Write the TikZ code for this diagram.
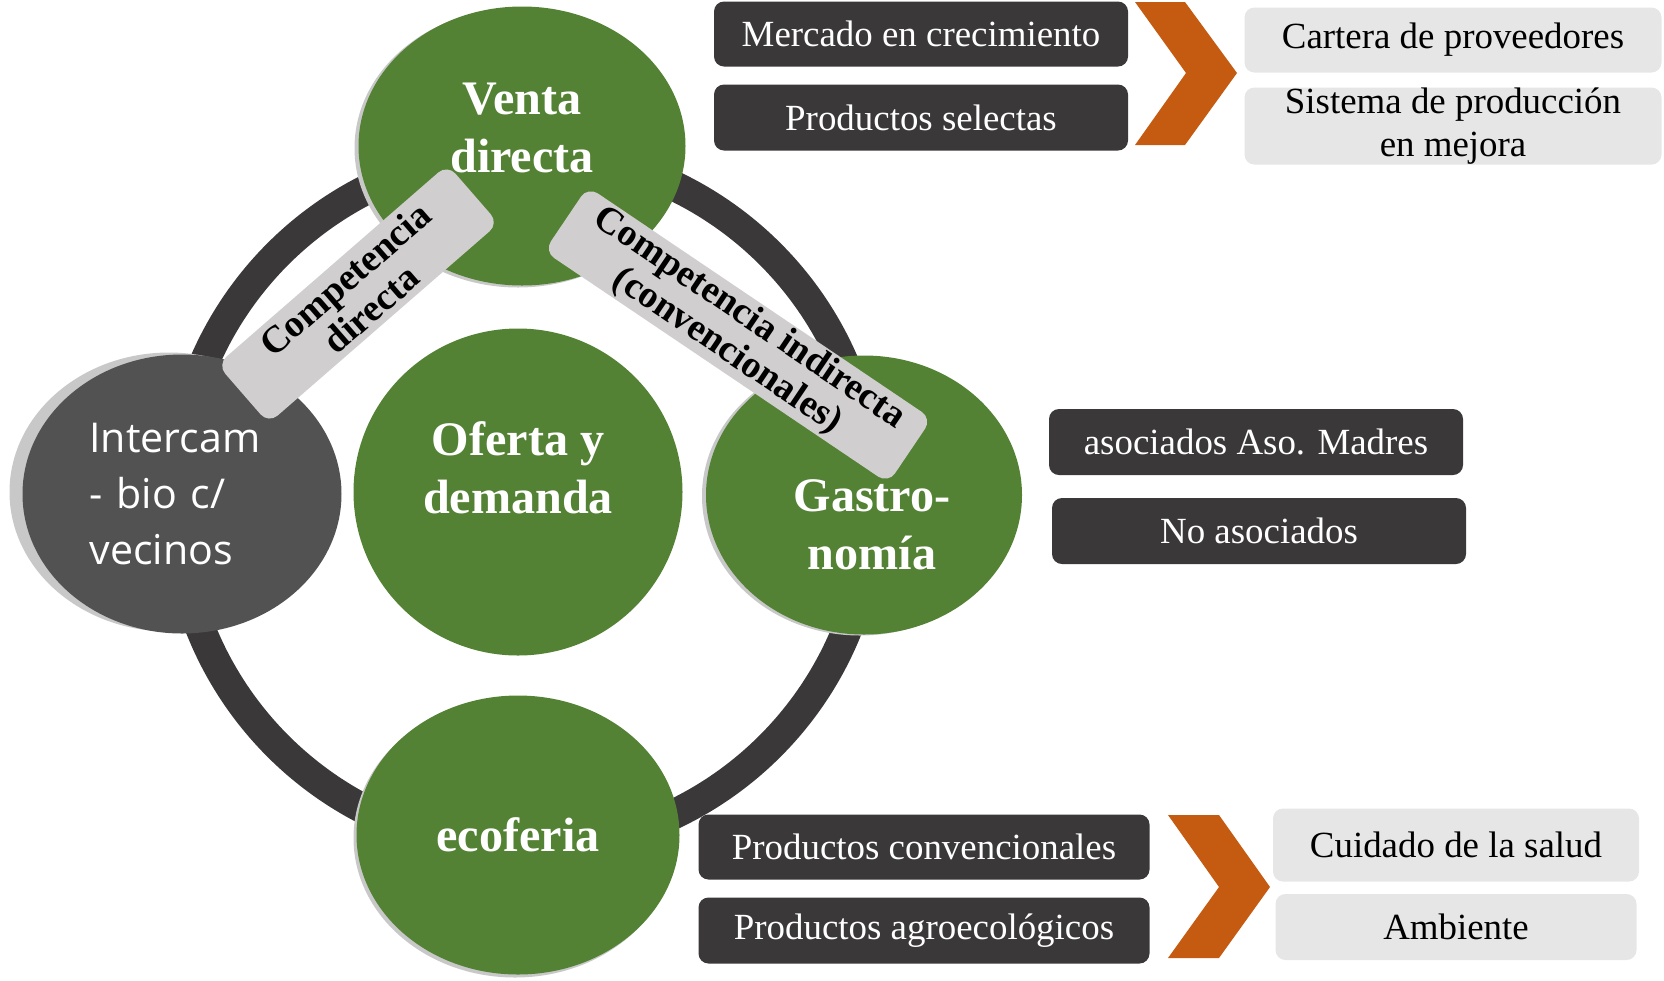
\documentclass[tikz,border=0pt]{standalone}
\usepackage{fontspec}
\setmainfont{Liberation Serif}
\newfontfamily\opensans{Open Sans}
\usetikzlibrary{shapes.geometric,positioning}

\definecolor{leafgreen}{HTML}{548235}
\definecolor{charcoal}{HTML}{3A3838}
\definecolor{slate}{HTML}{525252}
\definecolor{ghostgray}{HTML}{C8C8C8}
\definecolor{badgegray}{HTML}{D0CECE}
\definecolor{palegray}{HTML}{E7E6E6}
\definecolor{rust}{HTML}{C55A11}

\begin{document}
\begin{tikzpicture}[x=0.1mm,y=-0.1mm,
    hub/.style={ellipse,
        fill=leafgreen,
        inner sep=0pt,
        outer sep=0pt},
    hubtext/.style={text=white,
        align=center,
        inner sep=0pt,
        font=\fontsize{13.7}{16.5}\selectfont\bfseries},
    ghost/.style={ellipse, fill=ghostgray, inner sep=0pt, outer sep=0pt},
    ring/.style={draw=charcoal, line width=3mm},
    darkbox/.style={rectangle,
        fill=charcoal,
        text=white,
        rounded corners=1mm,
        inner sep=0pt,
        outer sep=0pt,
        minimum height=6.6mm,
        align=center,
        font=\fontsize{10.5}{12.4}\selectfont},
    lightbox/.style={darkbox, fill=palegray, text=black},
    badge/.style={rectangle,
        fill=badgegray,
        rounded corners=1.2mm,
        inner sep=0pt,
        minimum height=7.8mm,
        align=center,
        font=\fontsize{10.8}{11.2}\selectfont\bfseries},
    chevron/.style={fill=rust},
    ]
    \useasboundingbox (0,0) rectangle (1664,980);

    % ring behind the circles
    \coordinate (ringc) at (524,500);
    \draw[ring] (ringc) circle[radius=34.8mm];

    % soft shadows
    \node[ghost, minimum width=32.7mm, minimum height=27.9mm] (venta-sh) at (518,148) {};
    \node[ghost, minimum width=31.9mm, minimum height=27.9mm] (intercambio-sh) at (169,492) {};
    \node[ghost, minimum width=31.6mm, minimum height=27.9mm] (gastro-sh) at (860,496) {};
    \node[ghost, minimum width=32.3mm, minimum height=27.9mm] (ecoferia-sh) at (515,838) {};

    \node[hub, minimum width=32.7mm, minimum height=27.9mm,
        label={[hubtext, yshift=1.8mm]center:Venta\\directa}] (venta) at (522,146) {};
    \node[hub, minimum width=32.9mm, minimum height=32.7mm,
        label={[hubtext, yshift=2.4mm]center:Oferta y\\demanda}] (oferta) at (518,492) {};
    \node[hub, fill=slate, minimum width=31.9mm, minimum height=27.9mm,
        label={[text=white, align=left, text width=18.5mm, inner sep=0pt,
            font=\opensans\fontsize{11.7}{15.9}\selectfont]center:Intercam\\- bio c/\\vecinos}] (intercambio) at (182,494) {};
    \node[hub, minimum width=31.6mm, minimum height=27.9mm,
        label={[hubtext, yshift=-3mm, xshift=0.8mm]center:Gastro-\\nomía}] (gastro) at (864,495) {};
    \node[hub, minimum width=32.3mm, minimum height=27.9mm,
        label={[hubtext]center:ecoferia}] (ecoferia) at (518,835) {};

    % competition tags
    \node[badge, rotate=41, minimum width=30.5mm] (directa) at (358,294) {Competencia\\directa};
    \node[badge, rotate=-34, minimum width=41.5mm] (indirecta) at (738,335) {Competencia indirecta\\(convencionales)};

    % venta directa
    \node[darkbox, minimum width=41.4mm, minimum height=6.5mm] (mercado) at (921,34) {Mercado en crecimiento};
    \node[darkbox, minimum width=41.4mm, below=1.8mm of mercado] (selectas) {Productos selectas};
    \fill[chevron] (1135,2) -- (1185,2) -- (1237,73) -- (1185,145) -- (1135,145) -- (1186,73) -- cycle;
    \node[lightbox, minimum width=41.7mm, minimum height=6.5mm] (cartera) at (1453,40) {Cartera de proveedores};
    \node[lightbox, minimum width=41.7mm, minimum height=6.7mm, below=1.5mm of cartera] (sistema) {Sistema de producción\\en mejora};

    % gastronomia
    \node[darkbox, minimum width=41.4mm] (asociados) at (1256,442) {asociados Aso. Madres};
    \node[darkbox, minimum width=41.4mm] (noasociados) at (1259,531) {No asociados};

    % ecoferia
    \node[darkbox, minimum width=45.1mm, minimum height=6.5mm] (convencionales) at (924,847) {Productos convencionales};
    \node[darkbox, minimum width=45.1mm, below=1.8mm of convencionales] (agroecologicos) {Productos agroecológicos};
    \fill[chevron] (1168,815) -- (1219,815) -- (1270,887) -- (1219,958) -- (1168,958) -- (1219,887) -- cycle;
    \node[lightbox, minimum width=36.6mm, minimum height=7.3mm] (salud) at (1456,845) {Cuidado de la salud};
    \node[lightbox, minimum width=36.1mm] (ambiente) at (1456,927) {Ambiente};
\end{tikzpicture}
\end{document}
